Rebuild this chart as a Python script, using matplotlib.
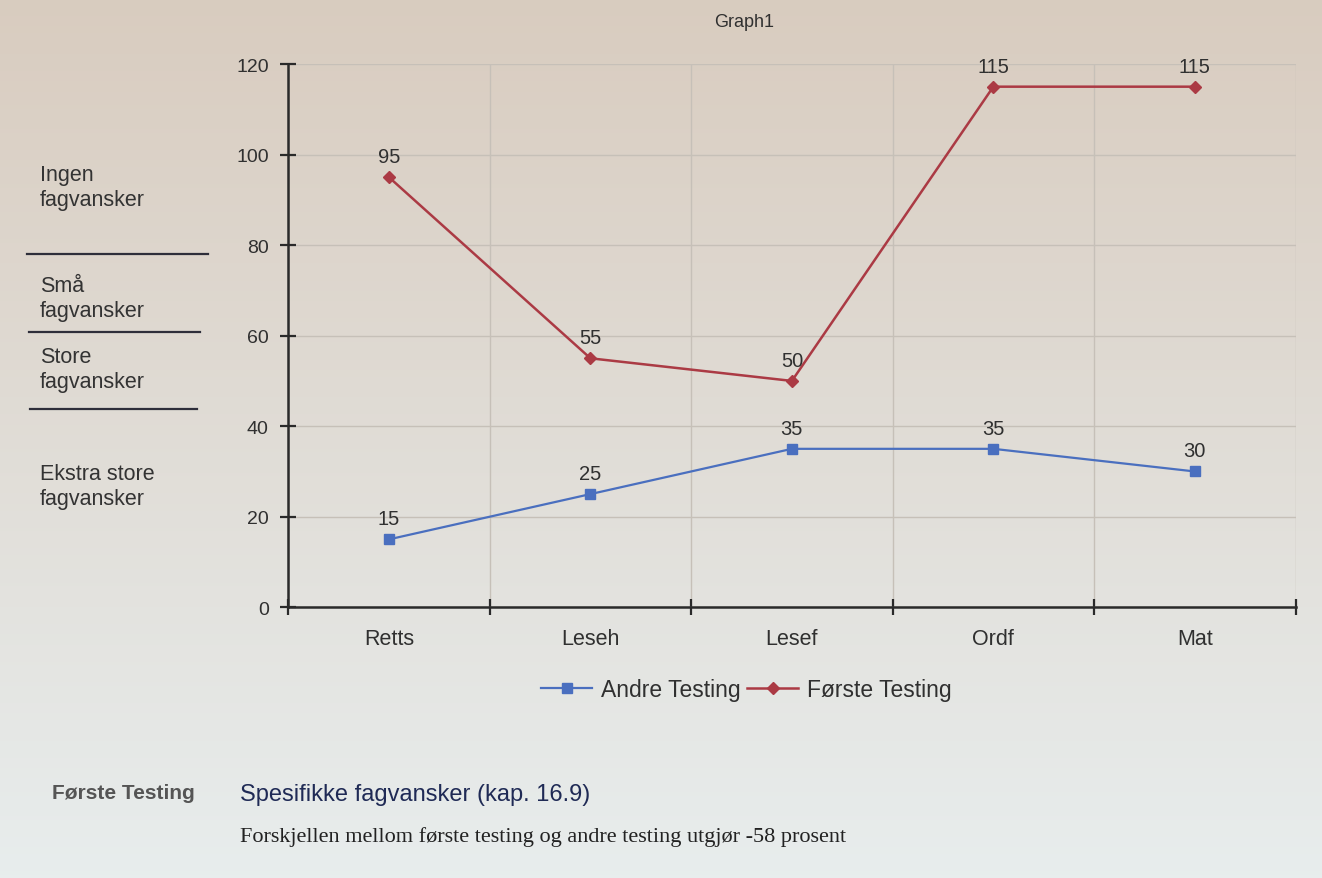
import matplotlib.pyplot as plt
import numpy as np

plt.rcParams['font.family'] = ['Liberation Sans', 'DejaVu Sans']

# data
categories = ['Retts', 'Leseh', 'Lesef', 'Ordf', 'Mat']
andre_testing = [15, 25, 35, 35, 30]
forste_testing = [95, 55, 50, 115, 115]
y_ticks = [0, 20, 40, 60, 80, 100, 120]
side_labels = ['Ingen\nfagvansker', 'Små\nfagvansker', 'Store\nfagvansker',
               'Ekstra store\nfagvansker']

fig = plt.figure(figsize=(13.22, 8.79), dpi=100)

# paper-like background: warm at the top, cooler at the bottom
bg = fig.add_axes([0, 0, 1, 1], zorder=-10)
grad = np.linspace(0, 1, 256).reshape(-1, 1)
top = np.array([0.85, 0.80, 0.75])
bottom = np.array([0.91, 0.93, 0.93])
img = top + (bottom - top) * grad[..., None]
bg.imshow(img, aspect='auto', extent=[0, 1, 0, 1])
bg.axis('off')

ax = fig.add_axes([0.218, 0.308, 0.762, 0.618])
ax.patch.set_alpha(0)
x = np.arange(len(categories))

blue = '#4a6fbf'
red = '#ab3a44'
ax.plot(x, andre_testing, color=blue, lw=1.6, marker='s', ms=7,
        label='Andre Testing', zorder=3)
ax.plot(x, forste_testing, color=red, lw=1.8, marker='D', ms=6,
        label='Første Testing', zorder=3)

for xi, v in zip(x, andre_testing):
    ax.annotate(str(v), (xi, v), xytext=(0, 8), textcoords='offset points',
                ha='center', va='bottom', fontsize=14.5, color='#303030')
for xi, v in zip(x, forste_testing):
    ax.annotate(str(v), (xi, v), xytext=(0, 8), textcoords='offset points',
                ha='center', va='bottom', fontsize=14.5, color='#303030')

ax.set_xlim(-0.5, len(categories) - 0.5)
ax.set_ylim(0, 120)
ax.set_yticks(y_ticks)
ax.set_yticklabels([str(t) for t in y_ticks], fontsize=14, color='#303030')

# category boundaries carry ticks and grid, names sit between them
ax.set_xticks(np.arange(-0.5, len(categories)))
ax.set_xticklabels([])
ax.set_xticks(x, minor=True)
ax.set_xticklabels(categories, minor=True, fontsize=15.5, color='#303030')
ax.tick_params(axis='x', which='minor', length=0, pad=15)
ax.tick_params(axis='x', which='major', direction='inout', length=12, width=1.6,
               color='#2a2a2a')
ax.tick_params(axis='y', direction='inout', length=12, width=1.6,
               color='#2a2a2a', pad=8)

ax.grid(True, which='major', color='#c6c0b8', lw=1)
for s in ['top', 'right']:
    ax.spines[s].set_visible(False)
for s in ['left', 'bottom']:
    ax.spines[s].set_color('#2a2a2a')
    ax.spines[s].set_linewidth(1.8)
ax.set_axisbelow(True)

fig.text(0.563, 0.974, 'Graph1', ha='center', va='center', fontsize=13,
         color='#303030')

leg = ax.legend(loc='center', bbox_to_anchor=(0.455, -0.152), ncol=2,
                frameon=False, fontsize=16.5, handlelength=2.2,
                columnspacing=0.3, handletextpad=0.4)
for t in leg.get_texts():
    t.set_color('#303030')

# left-hand category notes and separators
label_y = [188, 299, 370, 487]
for lab, yy in zip(side_labels, label_y):
    fig.text(40 / 1322, 1 - yy / 879, lab, ha='left', va='center',
             fontsize=15.5, color='#333333', linespacing=1.2)
for yy, x0, x1 in [(255, 27, 208), (333, 29, 200), (410, 30, 197)]:
    fig.add_artist(plt.Line2D([x0 / 1322, x1 / 1322], [1 - yy / 879, 1 - yy / 879],
                              color='#2e2e3a', lw=1.6))

# text below the chart
fig.text(52 / 1322, 1 - 794 / 879, 'Første Testing', fontsize=15,
         fontweight='bold', color='#555555', va='center')
fig.text(240 / 1322, 1 - 795 / 879, 'Spesifikke fagvansker (kap. 16.9)',
         fontsize=17, color='#1f2a55', va='center')
fig.text(240 / 1322, 1 - 837 / 879,
         'Forskjellen mellom første testing og andre testing utgjør -58 prosent',
         fontsize=16, family='Liberation Serif', color='#222222', va='center')

plt.savefig('out.png', dpi=100)
plt.close()
